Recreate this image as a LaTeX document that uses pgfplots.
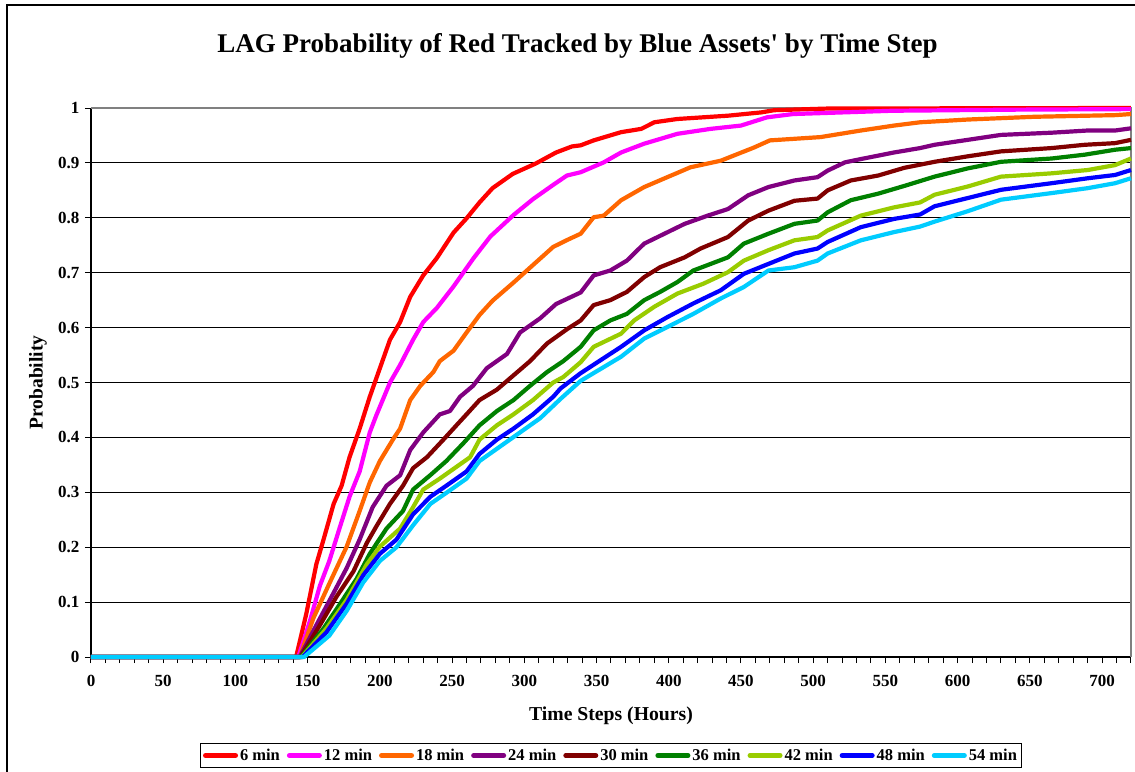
\documentclass[border=0pt]{standalone}
\usepackage{pgfplots}
\pgfplotsset{compat=1.18}
\usepackage{fontspec}
\setmainfont{Liberation Serif}[Ligatures=TeXOff]
\definecolor{s1}{HTML}{FF0000}
\definecolor{s2}{HTML}{FF00FF}
\definecolor{s3}{HTML}{FF6600}
\definecolor{s4}{HTML}{800080}
\definecolor{s5}{HTML}{800000}
\definecolor{s6}{HTML}{008000}
\definecolor{s7}{HTML}{99CC00}
\definecolor{s8}{HTML}{0000FF}
\definecolor{s9}{HTML}{00CCFF}
\begin{document}
\begin{tikzpicture}
\draw[line width=1.5pt] (7pt,-5pt) rectangle (1200pt,-820pt);
\begin{axis}[
  at={(91pt,-657pt)}, anchor=south west, scale only axis,
  width=1040pt, height=549pt,
  xmin=0, xmax=720, ymin=0, ymax=1,
  axis x line*=bottom, axis y line*=left,
  axis line style={black, line width=1.2pt, -},
  xtick={0,50,...,700}, minor xtick={0,10,...,720},
  ytick={0,0.1,0.2,0.3,0.4,0.5,0.6,0.7,0.8,0.9,1},
  tick align=outside, major tick length=6pt, minor tick length=6pt,
  tick style={black, line width=1pt},
  ymajorgrids, grid style={black, line width=0.9pt},
  clip=false,
  /pgf/number format/assume math mode=true,
  ticklabel style={font=\fontsize{17}{19}\selectfont\bfseries},
  xticklabel style={yshift=-9pt},
  yticklabel style={xshift=-2pt},
  title={LAG Probability of Red Tracked by Blue Assets' by Time Step},
  title style={font=\fontsize{27}{30}\selectfont\bfseries, at={(axis description cs:0.4678,1.0895)}, anchor=base},
  xlabel={Time Steps (Hours)},
  xlabel style={font=\fontsize{19.7}{22}\selectfont\bfseries, at={(axis description cs:0.5,-0.1165)}, anchor=base},
  ylabel={Probability},
  ylabel style={font=\fontsize{19.5}{22}\selectfont\bfseries, at={(axis description cs:-0.051,0.5)}, anchor=center},
  legend style={at={(0.5,-0.1567)}, anchor=north, legend columns=9, draw=black, line width=1pt,
    font=\fontsize{16.5}{18}\selectfont\bfseries, inner ysep=3.5pt, inner xsep=3pt,
    /tikz/every even column/.append style={column sep=5pt}},
  legend image code/.code={\draw[#1, line width=5pt, line cap=round] (0pt,0pt) -- (30pt,0pt);},
  every axis plot/.append style={line width=4.2pt, line join=round, mark=none},
]
\draw[gray, line width=1.5pt] (rel axis cs:0,1) -- (rel axis cs:1,1) -- (rel axis cs:1,0);
\addplot[s1] coordinates {(0,0)(142,0)(149,0.078)(156,0.169)(161,0.214)(168,0.279)(173.5,0.312)(179,0.364)(186,0.416)(193,0.474)(200,0.526)(207,0.578)(214,0.61)(221,0.656)(230,0.695)(239.5,0.727)(251,0.773)(260,0.799)(269,0.828)(278,0.854)(292,0.88)(308,0.899)(322,0.919)(333,0.93)(339,0.932)(348,0.941)(367,0.956)(381,0.962)(390,0.974)(406,0.98)(441,0.986)(464,0.992)(473,0.996)(510,0.999)(720,1.0)};
\addlegendentry{6 min}
\addplot[s2] coordinates {(0,0)(143.5,0)(151.5,0.065)(158.5,0.13)(165,0.175)(172,0.234)(179,0.292)(186,0.338)(193,0.409)(197.5,0.44)(207,0.5)(214,0.532)(223,0.578)(230,0.61)(239.5,0.636)(251,0.675)(258,0.701)(265,0.727)(276.5,0.766)(292.5,0.805)(306,0.834)(320,0.86)(329.5,0.877)(339,0.883)(355,0.901)(367,0.919)(383,0.935)(406,0.953)(429,0.962)(450,0.968)(468,0.983)(486,0.989)(555,0.995)(640,0.997)(720,0.998)};
\addlegendentry{12 min}
\addplot[s3] coordinates {(0,0)(144.5,0)(154,0.071)(165.4,0.136)(177,0.201)(186,0.266)(193,0.318)(200,0.357)(209,0.396)(214,0.416)(221,0.468)(228,0.494)(237,0.519)(241.5,0.539)(251,0.558)(260,0.591)(269,0.623)(278,0.649)(292.5,0.682)(306,0.714)(320,0.747)(330,0.76)(339,0.771)(348,0.801)(355,0.804)(367,0.832)(383,0.856)(399,0.874)(415,0.892)(436,0.904)(459,0.928)(470,0.941)(505,0.947)(533,0.959)(556,0.968)(574,0.974)(607,0.979)(653,0.984)(709,0.987)(720,0.989)};
\addlegendentry{18 min}
\addplot[s4] coordinates {(0,0)(144.5,0)(156,0.058)(168,0.117)(177,0.162)(186,0.214)(195,0.273)(204.6,0.312)(214,0.331)(221,0.377)(230,0.409)(241.5,0.442)(248.5,0.448)(255.5,0.474)(264.5,0.494)(274,0.526)(288,0.552)(297,0.591)(311,0.617)(322,0.643)(339,0.664)(348,0.695)(359.5,0.704)(371,0.722)(383,0.753)(397,0.771)(411,0.789)(427,0.804)(441,0.816)(455,0.841)(469,0.856)(487,0.868)(503,0.874)(510,0.886)(522,0.901)(533,0.907)(556,0.919)(574,0.927)(584,0.933)(607,0.942)(630,0.951)(665,0.955)(690,0.959)(709,0.959)(720,0.963)};
\addlegendentry{24 min}
\addplot[s5] coordinates {(0,0)(145,0)(158.5,0.058)(170,0.11)(181.7,0.156)(191,0.208)(198,0.24)(207,0.279)(216,0.312)(223,0.344)(232.6,0.364)(244,0.396)(253,0.422)(260,0.442)(269,0.468)(281,0.487)(292.5,0.513)(304,0.539)(315.7,0.571)(329.5,0.597)(339,0.613)(348,0.641)(359.5,0.65)(371,0.665)(383,0.692)(394,0.71)(411,0.728)(422,0.744)(441,0.765)(455,0.795)(469,0.813)(487,0.831)(503,0.835)(510,0.85)(526,0.868)(545,0.877)(563,0.891)(584,0.902)(607,0.912)(630,0.921)(665,0.927)(688,0.933)(709,0.936)(720,0.942)};
\addlegendentry{30 min}
\addplot[s6] coordinates {(0,0)(145.5,0)(161,0.052)(172.5,0.097)(184,0.143)(193,0.188)(204.6,0.234)(216,0.266)(223,0.305)(234.8,0.331)(246,0.357)(258,0.39)(269,0.422)(281,0.448)(292.5,0.468)(304,0.494)(315.7,0.519)(327,0.539)(339,0.565)(348,0.595)(359.5,0.613)(371,0.625)(383,0.65)(394,0.665)(406,0.683)(417,0.704)(441,0.728)(452,0.753)(469,0.771)(487,0.789)(503,0.795)(510,0.81)(526,0.832)(545,0.844)(563,0.858)(584,0.875)(607,0.89)(630,0.902)(665,0.908)(688,0.915)(709,0.924)(720,0.927)};
\addlegendentry{36 min}
\addplot[s7] coordinates {(0,0)(146,0)(163,0.052)(177,0.104)(191,0.169)(200,0.201)(214,0.234)(223,0.273)(230,0.305)(241.5,0.325)(255.5,0.351)(262.5,0.364)(269,0.396)(281,0.422)(292.5,0.442)(306,0.468)(320,0.5)(327,0.51)(339,0.537)(348,0.565)(367,0.589)(376,0.613)(390,0.638)(406,0.662)(424,0.68)(441,0.701)(452,0.722)(469,0.741)(487,0.759)(503,0.765)(510,0.777)(533,0.804)(556,0.819)(574,0.828)(584,0.842)(607,0.857)(630,0.875)(665,0.881)(690,0.887)(709,0.896)(720,0.908)};
\addlegendentry{42 min}
\addplot[s8] coordinates {(0,0)(146.5,0)(163,0.045)(177,0.097)(188.5,0.149)(200,0.188)(211.5,0.214)(223,0.26)(235,0.292)(246,0.312)(260,0.338)(269,0.37)(281,0.396)(292.5,0.416)(306,0.442)(320,0.474)(325,0.489)(339,0.517)(353,0.541)(367,0.565)(383,0.595)(399,0.619)(417,0.644)(436,0.668)(452,0.698)(469,0.716)(487,0.735)(503,0.744)(510,0.756)(533,0.783)(556,0.798)(574,0.806)(584,0.821)(607,0.836)(630,0.851)(665,0.863)(690,0.872)(709,0.878)(720,0.887)};
\addlegendentry{48 min}
\addplot[s9] coordinates {(0,0)(147.5,0)(165,0.039)(177,0.084)(188.5,0.136)(200,0.175)(211.5,0.2)(223,0.24)(235,0.279)(246,0.299)(260,0.325)(269,0.357)(283,0.383)(297,0.409)(311,0.435)(325,0.47)(339,0.503)(353,0.525)(367,0.547)(383,0.58)(399,0.601)(417,0.625)(436,0.653)(452,0.674)(469,0.704)(487,0.71)(503,0.722)(510,0.735)(533,0.759)(556,0.774)(574,0.784)(584,0.793)(607,0.812)(630,0.833)(665,0.845)(690,0.854)(709,0.863)(720,0.872)};
\addlegendentry{54 min}
\end{axis}
\pgfresetboundingbox
\useasboundingbox (0pt,0pt) rectangle (1135pt,-771pt);
\end{tikzpicture}
\end{document}
